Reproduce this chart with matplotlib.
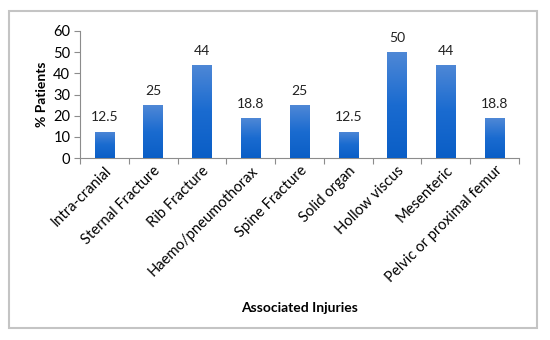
import matplotlib
matplotlib.use("Agg")
import matplotlib.pyplot as plt
import numpy as np
from matplotlib.patches import Rectangle
from matplotlib.colors import LinearSegmentedColormap

categories = ["Intra-cranial", "Sternal Fracture", "Rib Fracture", "Haemo/pneumothorax",
              "Spine Fracture", "Solid organ", "Hollow viscus", "Mesenteric",
              "Pelvic or proximal femur"]
values = [12.5, 25, 44, 18.8, 25, 12.5, 50, 44, 18.8]
value_labels = ["12.5", "25", "44", "18.8", "25", "12.5", "50", "44", "18.8"]
yticks = [0, 10, 20, 30, 40, 50, 60]

plt.rcParams['font.family'] = ['Lato', 'DejaVu Sans']

fig = plt.figure(figsize=(5.5, 3.4), dpi=100)
ax = fig.add_axes([80/550, 1-158/340, (519-80)/550, (158-31)/340])

x = np.arange(len(categories))
bars = ax.bar(x, values, width=0.4, color='#1f6ccc', zorder=2)

cmap = LinearSegmentedColormap.from_list("g", ["#0a5ec6", "#1a6bd0", "#4f88d6"])
grad = np.linspace(0, 1, 256).reshape(-1, 1)
for b in bars:
    x0, y0 = b.get_x(), b.get_y()
    w, h = b.get_width(), b.get_height()
    im = ax.imshow(grad, cmap=cmap, aspect='auto', origin='lower',
                   extent=[x0, x0 + w, y0, y0 + h], zorder=3, interpolation='bilinear')
    im.set_clip_path(b)
    b.set_facecolor('none')

for xi, v, lab in zip(x, values, value_labels):
    ax.annotate(lab, (xi, v), xytext=(0, 6), textcoords='offset points',
                ha='center', va='bottom', fontsize=10, color='#222222')

ax.set_xlim(-0.5, len(categories) - 0.5)
ax.set_ylim(0, 60)
ax.set_yticks(yticks)
ax.set_yticklabels([str(t) for t in yticks], fontsize=10.5)

ax.set_xticks(np.arange(len(categories) + 1) - 0.5)
ax.set_xticklabels([])
ax.set_xticks(x, minor=True)
ax.set_xticklabels(categories, minor=True, rotation=45, ha='right',
                   rotation_mode='anchor', fontsize=10.6)
ax.tick_params(axis='x', which='minor', length=0, pad=4)
ax.tick_params(axis='x', which='major', length=4, color='#8c8c8c', direction='out')
ax.tick_params(axis='y', length=4, color='#8c8c8c', direction='out', pad=3)

for s in ['top', 'right']:
    ax.spines[s].set_visible(False)
for s in ['left', 'bottom']:
    ax.spines[s].set_color('#8c8c8c')
    ax.spines[s].set_linewidth(0.8)

ax.set_ylabel("% Patients", fontsize=10, fontweight='bold', labelpad=4)
fig.text(299.5/550, 1-308/340, "Associated Injuries", fontsize=10, fontweight='bold',
         ha='center', va='center')

border = Rectangle((9/550, 1-328/340), (537-9)/550, (328-11)/340, transform=fig.transFigure,
                   fill=False, edgecolor='#c4c4c4', linewidth=1.5)
fig.patches.append(border)

fig.savefig("out.png", dpi=100)
